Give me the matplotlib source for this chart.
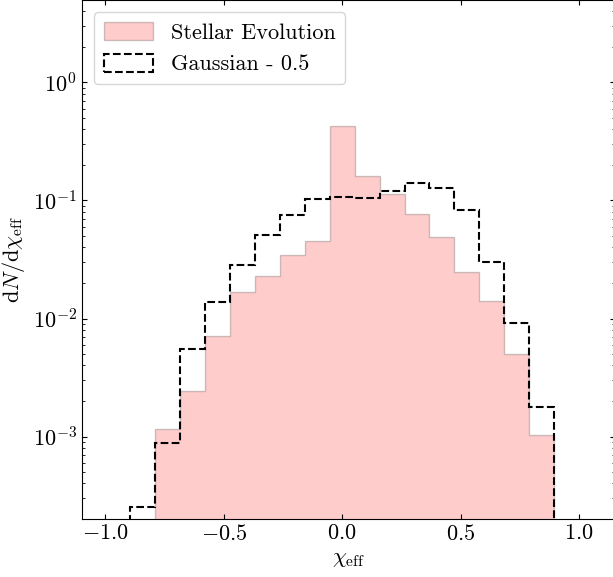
import numpy as np
import matplotlib.pyplot as plt

plt.rcParams['font.family'] = 'serif'
plt.rcParams['font.serif'] = ['cmr10', 'DejaVu Serif']
plt.rcParams['mathtext.fontset'] = 'cm'
plt.rcParams['axes.formatter.use_mathtext'] = True
plt.rcParams['font.size'] = 16

# chi_eff bins (19 equal bins on [-1, 1])
bin_edges = np.linspace(-1.0, 1.0, 20)

# dN/dchi_eff per bin
stellar_evolution = [0, 0, 1.15e-3, 2.45e-3, 7.1e-3, 0.0167, 0.0229, 0.0347, 0.0453,
                     0.427, 0.162, 0.114, 0.0764, 0.0486, 0.0250, 0.0141, 4.96e-3,
                     1.03e-3, 0]
gaussian_05 = [0, 2.55e-4, 8.87e-4, 5.47e-3, 0.0137, 0.0283, 0.0506, 0.075, 0.102,
               0.107, 0.105, 0.121, 0.140, 0.128, 0.0838, 0.0302, 9.25e-3,
               1.79e-3, 0]

centers = 0.5 * (bin_edges[1:] + bin_edges[:-1])

fig = plt.figure(figsize=(6.13, 5.77), dpi=100)
ax = fig.add_axes([0.1333, 0.1005, 0.870, 0.8995])

ax.hist(centers, bins=bin_edges, weights=stellar_evolution, histtype='stepfilled',
        facecolor='r', edgecolor='k', alpha=0.2, lw=1, log=True,
        label='Stellar Evolution')
ax.hist(centers, bins=bin_edges, weights=gaussian_05, histtype='step',
        color='k', ls='--', lw=1.5, log=True, label='Gaussian - 0.5')

ax.set_yscale('log')
ax.set_xlim(-1.1, 1.152)
ax.set_ylim(2e-4, 5)
ax.set_xlabel(r'$\chi_{\rm eff}$')
ax.set_ylabel(r'$\mathrm{d}N/\mathrm{d}\chi_{\rm eff}$')
ax.tick_params(which='both', direction='in', top=True, right=True)
ax.legend(loc='upper left', fancybox=True, handlelength=2.2, handleheight=0.85,
          labelspacing=0.5, borderpad=0.45, borderaxespad=0.55)

fig.savefig('out.png', dpi=100)
